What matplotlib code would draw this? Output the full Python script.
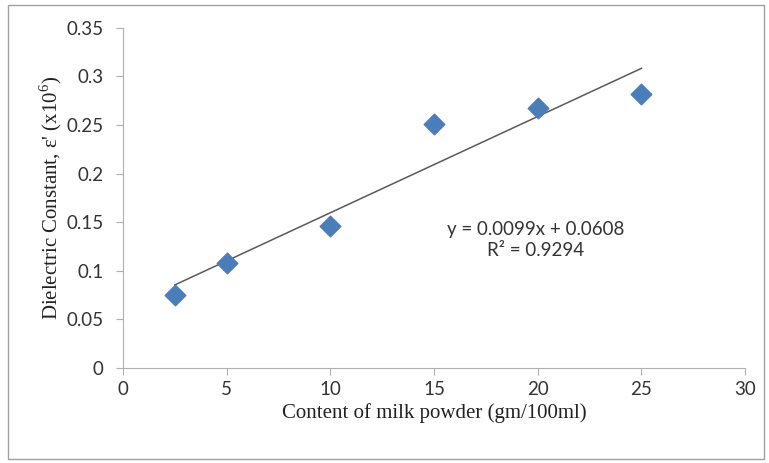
import numpy as np
import matplotlib.pyplot as plt
from matplotlib.patches import Rectangle

# --- data ---
contenido = [2.5, 5, 10, 15, 20, 25]
constante = [0.075, 0.108, 0.146, 0.251, 0.267, 0.282]
pendiente = 0.0099
intercepto = 0.0608
r2 = 0.9294
xticks = [0, 5, 10, 15, 20, 25, 30]
yticks = [0, 0.05, 0.1, 0.15, 0.2, 0.25, 0.3, 0.35]
ytick_labels = ['0', '0.05', '0.1', '0.15', '0.2', '0.25', '0.3', '0.35']

plt.rcParams['mathtext.fontset'] = 'custom'
plt.rcParams['mathtext.rm'] = 'Liberation Serif'

fig = plt.figure(figsize=(7.69, 4.63), dpi=100)
fig.patches.append(Rectangle((0.011, 0.008), 0.982, 0.982, transform=fig.transFigure,
                             fill=False, edgecolor='#a0a0a0', linewidth=1))
ax = fig.add_axes([0.16, 0.205, 0.809, 0.735])

ax.scatter(contenido, constante, marker='D', s=110, color='#4a7ebb', zorder=3)
xs = np.array([contenido[0], contenido[-1]])
ax.plot(xs, pendiente * xs + intercepto, color='#5a5a5a', linewidth=1.1, zorder=2)

ax.set_xlim(0, 30)
ax.set_ylim(0, 0.35)
ax.set_xticks(xticks)
ax.set_yticks(yticks)
ax.set_yticklabels(ytick_labels)
for sp in ['top', 'right']:
    ax.spines[sp].set_visible(False)
for sp in ['left', 'bottom']:
    ax.spines[sp].set_color('#b0b0b0')
ax.tick_params(axis='both', colors='#b0b0b0', labelcolor='#333333', length=5,
               labelsize=13.5)
for lab in ax.get_xticklabels() + ax.get_yticklabels():
    lab.set_family('Lato')
ax.tick_params(axis='x', pad=4)
ax.tick_params(axis='y', pad=9)

ax.set_xlabel('Content of milk powder (gm/100ml)', family='Liberation Serif',
              fontsize=15, color='#222222', labelpad=4)
ax.set_ylabel("Dielectric Constant, ε' (x10$^{6}$)", family='Liberation Serif',
              fontsize=15, color='#222222', labelpad=2)

ax.text(19.9, 0.132, f'y = {pendiente}x + {intercepto}\nR² = {r2}', ha='center',
        va='center', family='Lato', fontsize=13.5, color='#333333', linespacing=1.3)

fig.savefig('out.png', dpi=100)
